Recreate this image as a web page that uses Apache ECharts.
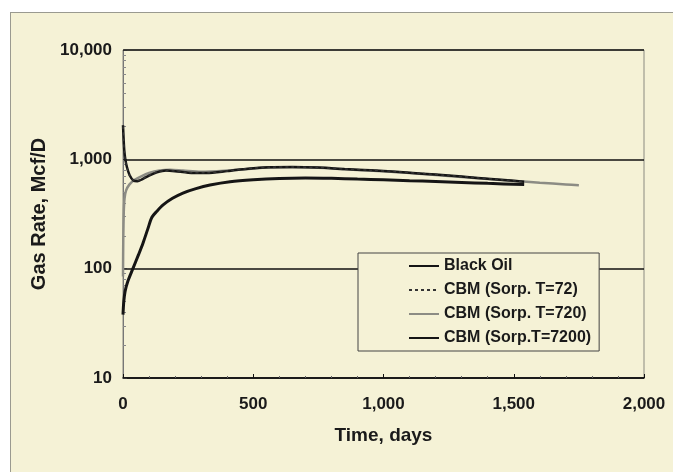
<!DOCTYPE html>
<html><head><meta charset="utf-8">
<script src="https://cdn.jsdelivr.net/npm/echarts@6/dist/echarts.min.js"></script>
<style>
html,body{margin:0;padding:0;background:#fff;}
#bg{position:absolute;left:10px;top:12px;width:663px;height:460px;background:#f5f2d6;border-left:1px solid #9a9a90;border-top:1px solid #9a9a90;}
#c{position:absolute;left:0;top:0;width:673px;height:472px;}
</style>
</head><body><div id="bg"></div><div id="c"></div>
<script>
const seriesNames = ['Black Oil', 'CBM (Sorp. T=72)', 'CBM (Sorp. T=720)', 'CBM (Sorp.T=7200)'];
const xTicks = [0, 500, 1000, 1500, 2000];
const yTicks = [10, 100, 1000, 10000];

const blackOil = [[0,2050],[2,1600],[5,1200],[9,1000],[15,850],[25,720],[40,640],[55,630],[75,660],[100,710],[130,760],[165,790],[200,780],[250,755],[320,750],[400,780],[480,820],[560,845],[650,850],[750,840],[850,815],[950,795],[1050,770],[1150,740],[1250,710],[1350,680],[1450,650],[1540,625]];
const cbm72 = [[0,2000],[2,1550],[5,1180],[9,980],[15,840],[25,715],[40,645],[55,640],[75,665],[100,715],[130,765],[165,792],[200,782],[250,758],[320,752],[400,782],[480,822],[560,846],[650,851],[750,841],[850,816],[950,796],[1050,771],[1150,741],[1250,711],[1350,681],[1450,651],[1540,626]];
const cbm720 = [[0,85],[1,180],[3,330],[6,440],[12,520],[25,590],[45,650],[70,700],[100,750],[140,790],[180,805],[230,790],[300,770],[400,790],[500,825],[600,845],[700,845],[800,825],[900,800],[1000,780],[1100,750],[1200,720],[1300,690],[1400,660],[1500,635],[1600,610],[1700,590],[1750,580]];
const cbm7200 = [[0,38],[3,50],[8,62],[18,76],[38,100],[60,135],[77,172],[95,230],[111,295],[130,335],[154,383],[190,440],[230,492],[280,540],[334,582],[411,624],[500,650],[600,668],[700,675],[800,670],[900,660],[1000,650],[1100,638],[1200,627],[1300,615],[1400,603],[1540,588]];

const fmt = v => Number(v).toLocaleString('en-US');
const font = 'Liberation Sans, Arial, sans-serif';

const chart = echarts.init(document.getElementById('c'), null, {renderer: 'canvas'});
chart.setOption({
  backgroundColor: 'transparent',
  animation: false,
  textStyle: {fontFamily: font},
  grid: {left: 123, top: 50, right: 29, bottom: 94, show: true, borderColor: '#8a8a80', borderWidth: 1, backgroundColor: 'transparent'},
  xAxis: {
    type: 'value', min: xTicks[0], max: xTicks[xTicks.length - 1], interval: 500,
    name: 'Time, days', nameLocation: 'middle', nameGap: 48,
    nameTextStyle: {fontSize: 19, fontWeight: 'bold', color: '#1a1a1a', fontFamily: font},
    axisLine: {show: true, lineStyle: {color: '#111', width: 1.5}},
    axisTick: {show: true, inside: true, length: 4, lineStyle: {color: '#111'}},
    minorTick: {show: true, splitNumber: 5, length: 2, lineStyle: {color: '#666'}},
    axisLabel: {margin: 18, fontSize: 17, fontWeight: 'bold', color: '#1a1a1a', formatter: fmt},
    splitLine: {show: false}
  },
  yAxis: {
    type: 'log', logBase: 10, min: yTicks[0], max: yTicks[yTicks.length - 1],
    name: 'Gas Rate, Mcf/D', nameLocation: 'middle', nameGap: 71,
    nameTextStyle: {fontSize: 20, fontWeight: 'bold', color: '#1a1a1a', fontFamily: font},
    axisLine: {show: true, lineStyle: {color: '#777', width: 1}},
    axisTick: {show: true, inside: true, length: 4, lineStyle: {color: '#333'}},
    minorTick: {show: true, splitNumber: 9, length: 3, lineStyle: {color: '#888'}},
    axisLabel: {margin: 11, fontSize: 17, fontWeight: 'bold', color: '#1a1a1a', formatter: fmt},
    splitLine: {show: true, lineStyle: {color: '#111', width: 1.5}}
  },
  legend: {
    show: true, orient: 'vertical', left: 358, top: 253,
    padding: [5, 8, 5, 50], itemGap: 8, itemWidth: 30, itemHeight: 14,
    backgroundColor: '#f5f2d6', borderColor: '#444', borderWidth: 1,
    itemStyle: {opacity: 0},
    textStyle: {fontSize: 16, fontWeight: 'bold', color: '#1a1a1a', fontFamily: font},
    data: seriesNames
  },
  series: [
    {name: seriesNames[2], type: 'line', data: cbm720, symbol: 'none', smooth: 0.3, z: 2, lineStyle: {color: '#8c8c84', width: 2.5}, itemStyle: {color: '#8c8c84'}},
    {name: seriesNames[3], type: 'line', data: cbm7200, symbol: 'none', smooth: 0.3, z: 3, lineStyle: {color: '#151515', width: 3}, itemStyle: {color: '#151515'}},
    {name: seriesNames[0], type: 'line', data: blackOil, symbol: 'none', smooth: 0.3, z: 4, lineStyle: {color: '#151515', width: 2.5}, itemStyle: {color: '#151515'}},
    {name: seriesNames[1], type: 'line', data: cbm72, symbol: 'none', smooth: 0.3, z: 5, lineStyle: {color: '#333', width: 1.5, type: [3, 3]}, itemStyle: {color: '#333'}}
  ]
});
</script>
</body></html>
